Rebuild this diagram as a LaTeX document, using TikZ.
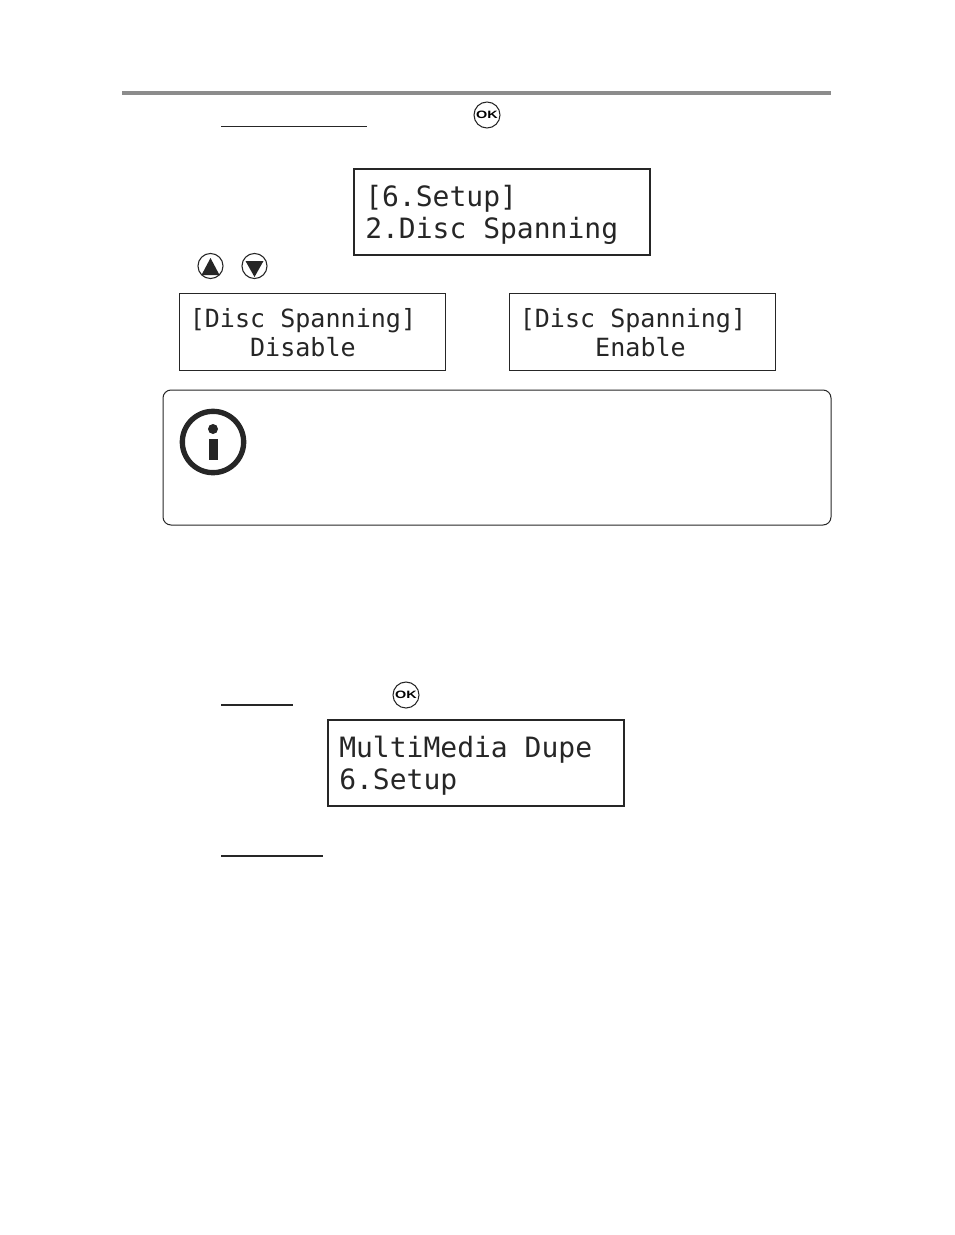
\documentclass[tikz,border=0pt]{standalone}
\usepackage{fontspec}
\setmonofont{DejaVu Sans Mono}
\setsansfont{Liberation Sans}
\begin{document}
\begin{tikzpicture}[x=0.75pt,y=-0.75pt,
	lcdbig/.style={font=\ttfamily\fontsize{21}{24}\selectfont,align=left,anchor=west,inner sep=0pt,text=black!85},
	lcdsmall/.style={font=\ttfamily\fontsize{18.8}{21.75}\selectfont,align=left,anchor=west,inner sep=0pt,text=black!85},
	lcdbox/.style={draw=black!85,line width=1.5pt},
	lcdthin/.style={draw=black!85,line width=0.75pt},
	under/.style={draw=black!85,line width=0.9pt},
	okbutton/.style={circle,draw=black!85,line width=0.8pt,minimum size=19.5pt,inner sep=0pt,font=\sffamily\bfseries\fontsize{8}{8}\selectfont},
	keybutton/.style={circle,draw=black!85,line width=0.8pt,minimum size=18.8pt,inner sep=0pt}]
	\useasboundingbox (0,0) rectangle (954,1235);
	\draw[draw=black!45,line width=3pt] (122,93) -- (831,93);
	% first step
	\draw[under] (221,126.5) -- (367,126.5);
	\draw (487,115) node[okbutton] (okone) {\scalebox{1.35}[1]{OK}};
	\draw[lcdbox] (354,169) rectangle (650,255);
	\draw (365,215) node[lcdbig] (spanmenu) {[6.Setup]\\2.Disc Spanning};
	\draw (210.5,266) node[keybutton] (upkey) {};
	\draw (254.5,266) node[keybutton] (downkey) {};
	\fill[black!85] (210.5,258) -- (219.5,275) -- (201.5,275) -- cycle;
	\fill[black!85] (254.5,277) -- (245.5,261) -- (263.5,261) -- cycle;
	\draw[lcdthin] (179,293) rectangle (445,370);
	\draw (189.5,332.5) node[lcdsmall] (disable) {[Disc Spanning]\\~~~~Disable};
	\draw[lcdthin] (509,293) rectangle (775,370);
	\draw (519.5,332.5) node[lcdsmall] (enable) {[Disc Spanning]\\~~~~~Enable};
	% note
	\draw[lcdthin,rounded corners=6pt] (163,390) rectangle (831,525);
	\draw (213,442) node[circle,draw=black!85,line width=4pt,minimum size=46pt,inner sep=0pt] (info) {};
	\fill[black!85] (213,429) circle (5);
	\fill[black!85] (208.7,439) rectangle (218.3,460);
	% second step
	\draw[under] (221,705) -- (293,705);
	\draw (406,695) node[okbutton] (oktwo) {\scalebox{1.35}[1]{OK}};
	\draw[lcdbox] (328,720) rectangle (624,806);
	\draw (339,766) node[lcdbig] (setupmenu) {MultiMedia Dupe\\6.Setup};
	\draw[under,line width=1.5pt] (221,856) -- (323,856);
\end{tikzpicture}
\end{document}
